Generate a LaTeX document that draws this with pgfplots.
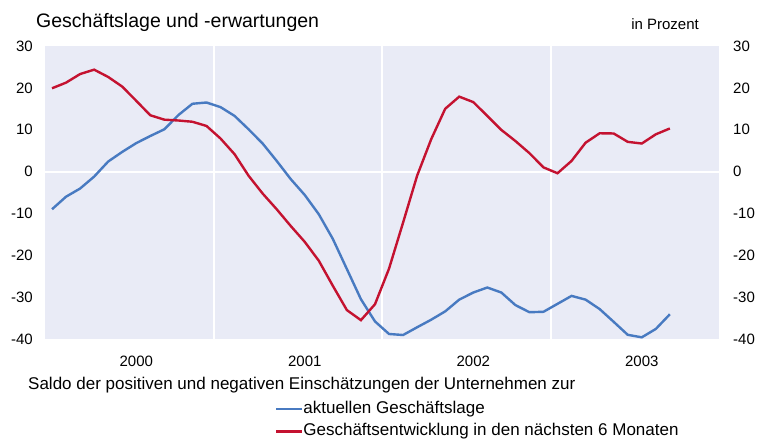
\documentclass[border=0pt]{standalone}
\usepackage{fontspec}
\setmainfont{Liberation Sans}
\usepackage{pgfplots}
\pgfplotsset{compat=1.18}
\definecolor{lblue}{RGB}{72,122,193}
\definecolor{lred}{RGB}{196,18,48}
\definecolor{bgcol}{RGB}{233,235,246}
\begin{document}
\begin{tikzpicture}
\useasboundingbox (0,0) rectangle (763bp,439bp);
\begin{axis}[
  at={(45bp,100bp)}, anchor=south west, scale only axis,
  width=674bp, height=293bp,
  xmin=-0.5, xmax=47.5, ymin=-40, ymax=30,
  ytick={-40,-30,...,30},
  xtick={6,18,30,42}, xticklabels={2000,2001,2002,2003},
  major tick length=0pt,
  axis line style={draw=none},
  axis background/.style={fill=bgcol},
  extra x ticks={11.5,23.5,35.5}, extra x tick labels={},
  extra x tick style={grid=major, major grid style={white, line width=2bp}},
  extra y ticks={0}, extra y tick labels={},
  extra y tick style={grid=major, major grid style={white, line width=2bp}},
  ytick pos=left, xtick pos=bottom,
  /pgf/number format/assume math mode=true,
  yticklabel style={font=\fontsize{15bp}{18bp}\selectfont, anchor=east, inner sep=0pt, xshift=-12bp},
  xticklabel style={font=\fontsize{15bp}{18bp}\selectfont, anchor=center, inner sep=0pt, yshift=-22.5bp},
  legend style={at={(axis description cs:0.3412,-0.2773)}, anchor=west, draw=none, fill=none,
    inner sep=0pt, outer sep=0pt, row sep=7bp,
    font=\fontsize{17bp}{20bp}\selectfont,
    nodes={inner sep=0pt, text height=12bp, text depth=3.5bp},
    /tikz/every even column/.append style={column sep=5.5bp}},
  legend cell align=left,
  legend image code/.code={\draw[#1, line width=2.4bp] (0bp,0bp) -- (26bp,0bp);},
]
\addplot[lblue, line width=2.4bp] table {
0 -9.0
1 -6.0
2 -4.05
3 -1.2
4 2.4
5 4.7
6 6.8
7 8.5
8 10.1
9 13.5
10 16.2
11 16.5
12 15.4
13 13.3
14 10.1
15 6.7
16 2.55
17 -1.8
18 -5.6
19 -10.2
20 -16.1
21 -23.3
22 -30.5
23 -35.8
24 -38.8
25 -39.05
26 -37.2
27 -35.4
28 -33.4
29 -30.6
30 -28.9
31 -27.7
32 -28.9
33 -31.9
34 -33.6
35 -33.5
36 -31.6
37 -29.7
38 -30.6
39 -32.85
40 -35.9
41 -39.0
42 -39.6
43 -37.6
44 -34.1
};
\addlegendentry{aktuellen Geschäftslage}
\addplot[lred, line width=2.4bp] table {
0 19.9
1 21.25
2 23.3
3 24.35
4 22.6
5 20.3
6 16.9
7 13.45
8 12.4
9 12.2
10 11.9
11 10.9
12 7.9
13 4.15
14 -1.0
15 -5.25
16 -9.0
17 -13.0
18 -16.8
19 -21.3
20 -27.3
21 -33.1
22 -35.5
23 -31.7
24 -23.2
25 -12.2
26 -1.0
27 7.7
28 15.0
29 17.9
30 16.6
31 13.3
32 9.95
33 7.3
34 4.4
35 1.0
36 -0.4
37 2.55
38 6.9
39 9.15
40 9.1
41 7.1
42 6.7
43 8.9
44 10.3
};
\addlegendentry{Geschäftsentwicklung in den nächsten 6 Monaten}
\end{axis}
\begin{axis}[
  at={(45bp,100bp)}, anchor=south west, scale only axis,
  width=674bp, height=293bp,
  xmin=-0.5, xmax=47.5, ymin=-40, ymax=30,
  ytick={-40,-30,...,30},
  hide x axis, axis y line*=right,
  axis line style={draw=none},
  major tick length=0pt,
  /pgf/number format/assume math mode=true,
  yticklabel style={font=\fontsize{15bp}{18bp}\selectfont, anchor=west, inner sep=0pt, xshift=14bp},
]
\addplot[draw=none] coordinates {(0,0)};
\end{axis}
\node[anchor=base west, inner sep=0pt, font=\fontsize{19.5bp}{22bp}\selectfont] at (36bp,411.7bp) {Geschäftslage und -erwartungen};
\node[anchor=base east, inner sep=0pt, font=\fontsize{15bp}{18bp}\selectfont] at (699bp,409.7bp) {in Prozent};
\node[anchor=base west, inner sep=0pt, font=\fontsize{17bp}{20bp}\selectfont] at (28bp,49bp) {Saldo der positiven und negativen Einschätzungen der Unternehmen zur};
\end{tikzpicture}
\end{document}
